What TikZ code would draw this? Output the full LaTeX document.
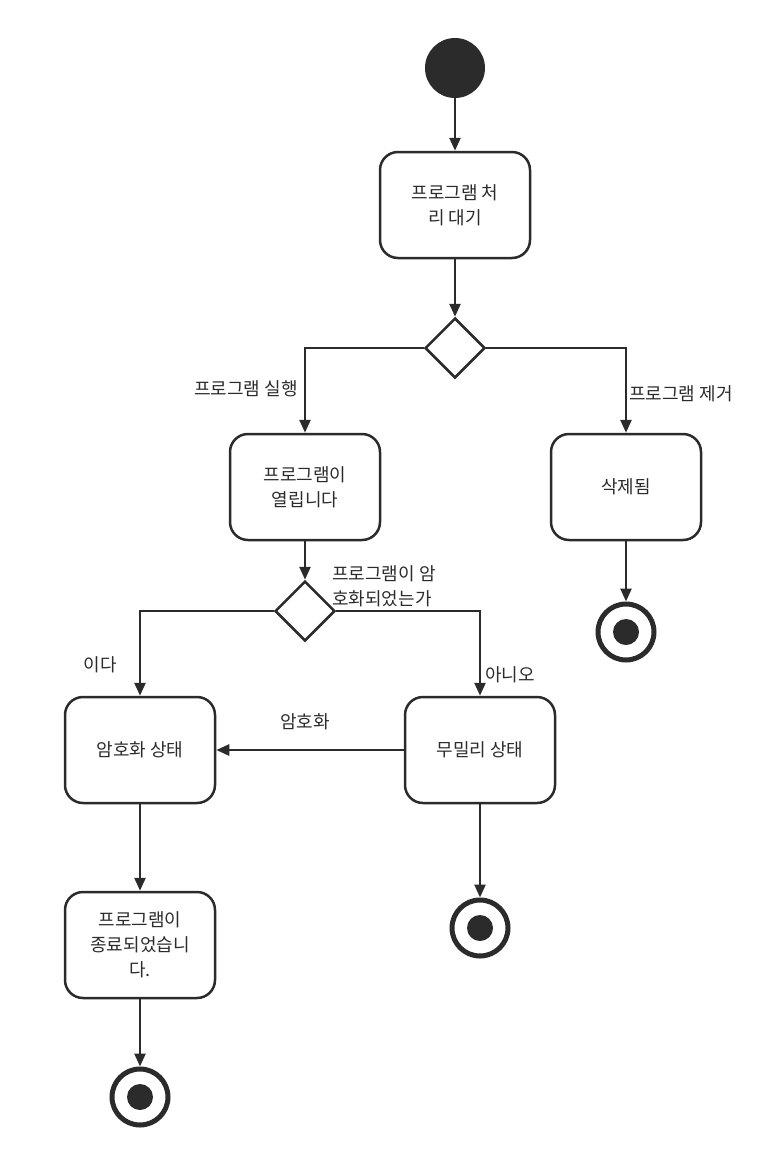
\documentclass[tikz,border=0pt]{standalone}
\usepackage{fontspec}
\setmainfont{Noto Sans CJK KR}
\usetikzlibrary{shapes.geometric,arrows.meta}
\definecolor{dk}{HTML}{2B2B2B}
\begin{document}
\begin{tikzpicture}[x=1pt,y=-1pt,
 box/.style={draw=dk,line width=2.5pt,rounded corners=18pt,minimum width=150pt,minimum height=106pt,align=center,font=\fontsize{18}{25}\selectfont,text=dk},
 dia/.style={draw=dk,line width=2.5pt,diamond,minimum width=60pt,minimum height=60pt,inner sep=0pt,fill=white},
 ar/.style={draw=dk,line width=2.5pt,-{Triangle[length=13pt,width=11pt]}},
 lab/.style={font=\fontsize{18}{25}\selectfont,text=dk,align=left},
 endn/.style={circle,draw=dk,line width=5pt,minimum size=56pt,inner sep=0pt,path picture={\fill[dk] (path picture bounding box.center) circle (13pt);}}]
\useasboundingbox (0,0) rectangle (781,1162);
\node[circle,fill=dk,minimum size=60pt,inner sep=0pt] (s) at (455,68) {};
\node[box] (b1) at (455,205) {프로그램 처\\리 대기};
\node[dia] (d1) at (455,348) {};
\node[box] (b2) at (305,487) {프로그램이\\열립니다};
\node[box] (b3) at (626,487) {삭제됨};
\node[endn] (e3) at (626,632) {};
\node[dia] (d2) at (305,611) {};
\node[box] (b4) at (140,750) {암호화 상태};
\node[box] (b5) at (480,750) {무밀리 상태};
\node[box] (b6) at (140,945) {프로그램이\\종료되었습니\\다.};
\node[endn] (e6) at (140,1097) {};
\node[endn] (e5) at (480,928) {};
\draw[ar] (s) -- (b1);
\draw[ar] (b1) -- (d1);
\draw[ar] (d1.west) -| (b2.north);
\draw[ar] (d1.east) -| (b3.north);
\draw[ar] (b3) -- (e3);
\draw[ar] (b2) -- (d2);
\draw[ar] (d2.west) -| (b4.north);
\draw[ar] (d2.east) -| (b5.north);
\draw[ar] (b5.west) -- (b4.east);
\draw[ar] (b4) -- (b6);
\draw[ar] (b6) -- (e6);
\draw[ar] (b5) -- (e5);
\node[lab] (l1) at (246,389) {프로그램 실행};
\node[lab] (l2) at (681,394) {프로그램 제거};
\node[lab] (l3) at (384,586) {프로그램이 암\\호화되었는가};
\node[lab] (l4) at (100,665) {이다};
\node[lab] (l5) at (510,675) {아니오};
\node[lab] (l6) at (305,722) {암호화};
\end{tikzpicture}
\end{document}
